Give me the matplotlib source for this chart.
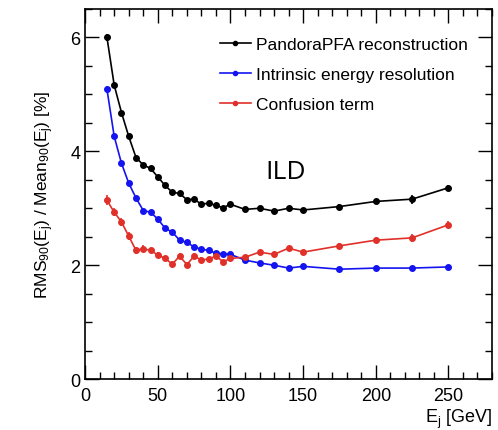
import numpy as np
import matplotlib
matplotlib.use("Agg")
import matplotlib.pyplot as plt
from matplotlib.ticker import MultipleLocator
from matplotlib.lines import Line2D

plt.rcParams['font.family'] = ['Liberation Sans', 'DejaVu Sans']
plt.rcParams['mathtext.fontset'] = 'custom'
plt.rcParams['mathtext.rm'] = 'Liberation Sans'
plt.rcParams['mathtext.it'] = 'Liberation Sans'

energy = [15, 20, 25, 30, 35, 40, 45, 50, 55, 60, 65, 70, 75, 80, 85, 90, 95,
          100, 110, 120, 130, 140, 150, 175, 200, 225, 250]

pandora = [6.00, 5.16, 4.68, 4.26, 3.89, 3.76, 3.70, 3.55, 3.40, 3.28, 3.26,
           3.15, 3.16, 3.07, 3.09, 3.05, 3.01, 3.07, 2.98, 3.00, 2.95, 3.00,
           2.97, 3.03, 3.12, 3.16, 3.36]
pandora_err = [0.06, 0.05, 0.05, 0.05, 0.05, 0.04, 0.04, 0.04, 0.04, 0.03, 0.03,
               0.03, 0.03, 0.03, 0.03, 0.03, 0.03, 0.03, 0.03, 0.03, 0.03, 0.03,
               0.03, 0.04, 0.04, 0.08, 0.05]

intrinsic = [5.09, 4.26, 3.79, 3.44, 3.18, 2.96, 2.93, 2.81, 2.65, 2.58, 2.44,
             2.40, 2.32, 2.28, 2.26, 2.21, 2.20, 2.19, 2.09, 2.04, 2.00, 1.95,
             1.98, 1.93, 1.95, 1.95, 1.97]
intrinsic_err = [0.06, 0.04, 0.03, 0.03, 0.03, 0.02, 0.02, 0.02, 0.02, 0.02, 0.02,
                 0.02, 0.02, 0.02, 0.02, 0.02, 0.02, 0.02, 0.02, 0.02, 0.02, 0.02,
                 0.02, 0.02, 0.02, 0.02, 0.02]

confusion = [3.14, 2.93, 2.76, 2.51, 2.26, 2.29, 2.26, 2.18, 2.12, 2.02, 2.16,
             2.01, 2.16, 2.09, 2.11, 2.16, 2.06, 2.12, 2.14, 2.23, 2.19, 2.30,
             2.23, 2.34, 2.44, 2.48, 2.71]
confusion_err = [0.09, 0.07, 0.07, 0.07, 0.06, 0.06, 0.05, 0.05, 0.05, 0.05, 0.05,
                 0.05, 0.05, 0.05, 0.04, 0.04, 0.04, 0.04, 0.04, 0.04, 0.04, 0.04,
                 0.04, 0.05, 0.05, 0.07, 0.06]

series = [
    (pandora, pandora_err, 'black', 'PandoraPFA reconstruction'),
    (intrinsic, intrinsic_err, '#1414f0', 'Intrinsic energy resolution'),
    (confusion, confusion_err, '#e0302a', 'Confusion term'),
]

fig = plt.figure(figsize=(4.98, 4.31), dpi=100)
ax = fig.add_axes([0.171, 0.118, 0.817, 0.859])

handles = []
for vals, errs, col, lab in series:
    ax.errorbar(energy, vals, yerr=errs, color=col, marker='o', markersize=4,
                linewidth=1.2, elinewidth=1.2, capsize=0)
    handles.append(Line2D([], [], color=col, marker='o', markersize=3,
                          linewidth=1.2, label=lab))

ax.set_xlim(0, 280)
ax.set_ylim(0, 6.5)
ax.xaxis.set_major_locator(MultipleLocator(50))
ax.xaxis.set_minor_locator(MultipleLocator(10))
ax.yaxis.set_major_locator(MultipleLocator(2))
ax.yaxis.set_minor_locator(MultipleLocator(0.5))
ax.tick_params(which='both', direction='in', top=True, right=True, labelsize=13)
ax.tick_params(which='major', length=10, width=1)
ax.tick_params(which='minor', length=5, width=1)
ax.tick_params(axis='x', pad=6)
for sp in ax.spines.values():
    sp.set_linewidth(1.2)

ax.set_xlabel(r'E$_\mathregular{j}$ [GeV]', fontsize=13, loc='right', labelpad=2)
ax.set_ylabel(r'RMS$_\mathregular{90}$(E$_\mathregular{j}$) / Mean$_\mathregular{90}$(E$_\mathregular{j}$) [%]',
              fontsize=12.5, labelpad=10)

ax.text(124, 3.65, 'ILD', fontsize=19, family=['Open Sans', 'DejaVu Sans'],
        ha='left', va='center')

ax.legend(handles=handles, loc='upper left', frameon=False, fontsize=12.5,
          bbox_to_anchor=(0.332, 0.925), borderpad=0, borderaxespad=0,
          handlelength=1.75, handletextpad=0.3, labelspacing=0.85)

fig.savefig('out.png', dpi=100)
